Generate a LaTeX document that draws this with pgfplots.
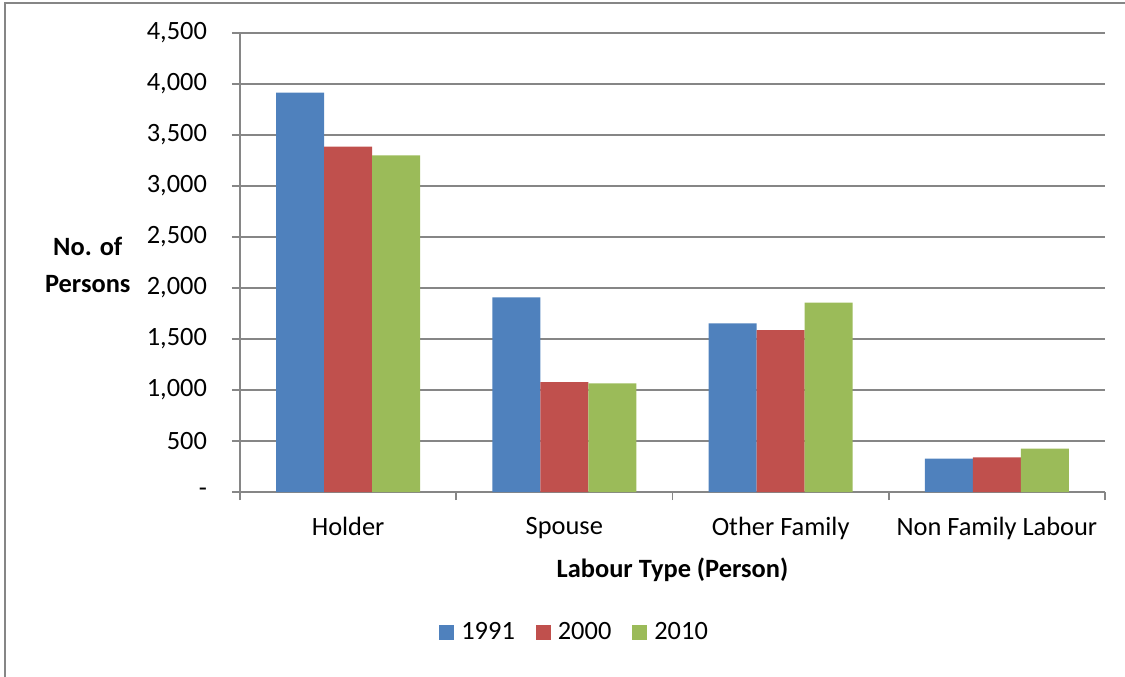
\documentclass[border=0pt]{standalone}
\usepackage{fontspec}
\setmainfont{Carlito}
\usepackage{pgfplots}
\pgfplotsset{compat=1.18}

\definecolor{c1991}{HTML}{4F81BD}
\definecolor{c2000}{HTML}{C0504D}
\definecolor{c2010}{HTML}{9BBB59}
\definecolor{axgray}{HTML}{868686}
\newcommand{\fs}{\fontsize{13.2bp}{18.5bp}\selectfont}

\begin{document}
\begin{tikzpicture}
% picture box (1125x677 px at 0.5 bp per px)
\useasboundingbox (-120bp,-92.5bp) rectangle (442.5bp,246bp);
\draw[axgray, line width=0.75bp] (-117.5bp,-93bp) -- (-117.5bp,244.5bp) -- (443bp,244.5bp);
\begin{axis}[
    at={(0,0)}, anchor=south west,
    scale only axis,
    width=432.5bp, height=229.5bp,
    ybar=0pt,
    bar width=0.222,
    xmin=-0.5, xmax=3.5,
    ymin=0, ymax=4500,
    axis x line=bottom, axis y line=left,
    axis line style={-, axgray, line width=0.75bp},
    xtick={-0.5,0.5,1.5,2.5,3.5},
    x tick label as interval,
    xticklabels={Holder,Spouse,Other Family,Non Family Labour},
    ytick={0,500,...,4500},
    yticklabels={-,500,{1,000},{1,500},{2,000},{2,500},{3,000},{3,500},{4,000},{4,500}},
    tick align=outside,
    major tick length=4bp,
    tick style={axgray, line width=0.75bp},
    ymajorgrids,
    grid style={axgray, line width=0.75bp},
    every tick label/.append style={font=\fs, text=black},
    xticklabel style={yshift=-5bp},
    yticklabel style={xshift=-9bp},
    xlabel={Labour Type (Person)},
    ylabel={No. of\\Persons},
    every axis x label/.style={at={(axis description cs:0.5,-0.170)}, anchor=center, font=\fs\bfseries},
    every axis y label/.style={at={(axis description cs:-0.176,0.495)}, anchor=center, align=center, font=\fs\bfseries},
    legend style={at={(axis description cs:0.388,-0.307)}, anchor=center, draw=none, font=\fs,
        legend columns=-1, /tikz/every even column/.append style={column sep=8.5bp}},
    legend image code/.code={\fill[#1] (0bp,-3.75bp) rectangle (7.5bp,3.75bp); \path (9bp,0bp);},
]
\addplot[fill=c1991, draw=none] coordinates {(0,3915) (1,1909) (2,1654) (3,327)};
\addplot[fill=c2000, draw=none] coordinates {(0,3385) (1,1078) (2,1588) (3,340)};
\addplot[fill=c2010, draw=none] coordinates {(0,3301) (1,1066) (2,1856) (3,425)};
\legend{1991,2000,2010}
\end{axis}
\end{tikzpicture}
\end{document}
